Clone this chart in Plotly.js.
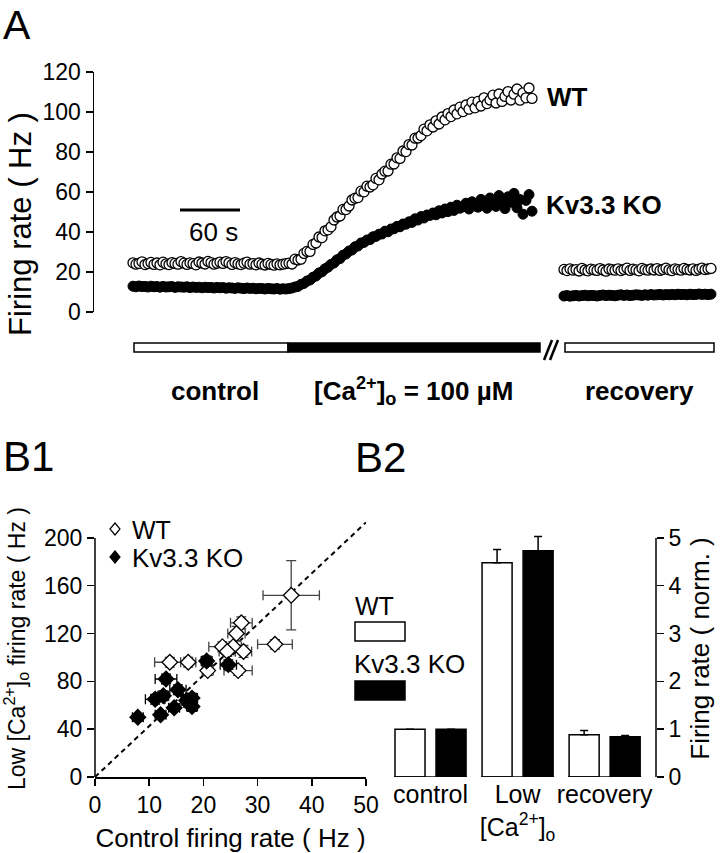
<!DOCTYPE html>
<html><head><meta charset="utf-8">
<script src="https://cdn.plot.ly/plotly-3.0.1.min.js"></script>
<style>html,body{margin:0;padding:0;background:#fff}#chart{width:720px;height:853px}</style>
</head><body><div id="chart"></div>
<script>
// ---------- Panel A: firing rate time course (samples every 3 s) ----------
const sampleStep = 3;          // s between samples
const mainStart = 0;           // s, control + low-Ca recording start
const recoveryStart = 431;     // s, recovery recording start (after break)

const wtMain = [
 24.6,23.9,24.3,25.1,23.7,24.2,24.8,23.8,24.5,23.6,
 24.9,24.1,23.7,24.7,24.3,23.9,25.2,24.4,23.8,24.6,
 24.2,23.6,25.0,24.5,24.0,25.3,24.7,23.9,24.4,24.9,
 24.3,25.2,24.6,23.8,24.7,24.1,23.7,24.4,24.9,23.9,
 24.2,23.6,24.5,23.9,23.5,24.3,23.8,23.4,24.1,23.6,
 23.9,24.2,
 24.4,24.0,26.4,26.0,26.4,29.3,30.3,30.3,33.8,34.5,
 37.5,37.2,40.6,41.1,42.6,46.0,47.5,48.0,51.3,51.2,
 53.0,56.0,56.9,57.2,60.4,60.1,62.9,62.5,63.6,66.8,
 66.1,69.0,70.4,70.5,73.9,74.0,77.1,76.8,80.5,80.2,
 83.7,83.5,86.9,87.0,88.2,91.4,90.6,93.6,92.5,95.6,
 94.0,97.5,96.1,99.2,97.7,101.0,99.1,102.4,100.2,103.5,
 101.4,104.9,102.1,105.3,103.0,107.1,104.2,106.0,108.4,104.5,
 109.0,105.3,107.8,110.2,106.0,108.9,111.5,105.9,109.6,107.1,
 112.0,106.8
];
const koMain = [
 12.9,12.6,13.0,12.7,12.8,12.5,12.9,12.6,12.7,12.4,
 12.8,12.5,12.6,12.7,12.3,12.6,12.5,12.4,12.6,12.2,
 12.5,12.3,12.4,12.1,12.4,12.2,12.3,12.0,12.3,12.1,
 12.2,11.9,12.1,12.0,11.8,12.1,11.9,11.7,12.0,11.8,
 11.9,11.6,11.8,11.7,11.5,11.8,11.6,11.5,11.7,11.4,
 11.6,11.5,
 11.7,12.0,12.5,12.8,13.8,14.3,15.5,16.0,17.4,18.0,
 19.5,20.1,21.6,22.4,23.8,24.5,26.1,26.7,28.4,29.0,
 30.5,31.0,32.6,33.0,34.5,34.8,36.0,36.2,37.6,37.8,
 38.9,39.0,40.4,40.1,41.5,41.6,42.8,42.6,44.0,43.9,
 45.1,44.8,46.6,46.0,47.7,47.0,48.5,48.3,49.5,48.6,
 50.6,49.5,51.5,50.2,52.4,50.8,53.4,51.9,52.6,54.4,
 51.5,55.1,53.0,52.4,56.3,53.8,51.9,57.0,54.6,52.8,
 58.2,55.0,51.7,57.6,54.9,59.3,52.1,56.2,48.9,55.8,
 58.7,50.4
];
const wtRecovery = [
 21.3,20.7,21.6,20.9,21.2,20.5,21.8,21.0,20.6,21.4,
 21.1,20.8,21.7,21.0,20.4,21.5,21.2,20.9,21.6,20.7,
 21.3,21.9,20.8,21.4,21.1,20.6,21.8,21.2,20.9,21.5,
 21.0,21.7,20.8,21.3,21.9,21.1,20.7,21.6,21.2,20.9,
 21.8,21.3,21.0,21.6,20.8,21.4,21.9,21.2,21.5,21.8
];
const koRecovery = [
 8.0,8.2,7.9,8.1,8.3,8.0,8.2,8.4,8.1,8.3,
 8.2,8.0,8.3,8.5,8.2,8.4,8.3,8.1,8.4,8.6,
 8.3,8.5,8.2,8.4,8.6,8.5,8.3,8.6,8.4,8.7,
 8.5,8.6,8.8,8.5,8.7,8.6,8.8,8.6,8.9,8.7,
 8.8,8.6,8.9,8.7,8.8,9.0,8.8,8.9,8.7,8.9
];
const yTicksA = [0,20,40,60,80,100,120];
// condition periods (s)
const controlPeriod = [1,155];
const lowCaPeriod = [155,407];
const recoveryPeriod = [432,581];
const scaleBarSeconds = [47,107];
const scaleBarLevel = 51;

// ---------- Panel B1: scatter ----------
const wtCtrl = [36.2,33.2,27.0,26.1,23.5,25.5,24.4,27.4,13.8,17.2,20.8,26.4];
const wtLow  = [152,111,129,120,109,109,105,105,96,96,89,89];
const wtCtrlErr = [5.2,3.2,2.0,1.6,2.5,1.5,1.5,1.5,2.8,1.4,1.0,2.6];
const wtLowErr  = [29,4,5,6,4,4,4,5,4,4,4,4];
const koCtrl = [7.9,12.1,11.1,12.6,13.1,15.3,14.6,17.4,17.9,16.9,17.9,20.6,24.6];
const koLow  = [50,52,65,68,82,73,58,62,66,64,59,97,94];
const koCtrlErr = [1.0,1.0,1.8,1.0,2.0,1.5,1.0,1.0,1.0,1.0,1.0,1.0,1.5];
const koLowErr  = [3,3,4,4,4,4,3,4,4,4,4,4,4];
const refLineX = [0,50];
const refLineY = [0,213];
const xTicksB1 = [0,10,20,30,40,50];
const yTicksB1 = [0,40,80,120,160,200];

// ---------- Panel B2: normalized bars ----------
const conditions = ['control','low','recovery'];
const conditionLabels = ['control','Low<br>[Ca<sup>2+</sup>]<sub>o</sub>','recovery'];
const wtNorm = [1.0,4.48,0.885];
const wtNormErr = [0,0.28,0.085];
const koNorm = [1.0,4.73,0.84];
const koNormErr = [0,0.30,0.03];
const yTicksB2 = [0,1,2,3,4,5];

// ---------- helpers ----------
const W = 720, H = 853;
const px = x => x / W;
const py = y => 1 - y / H;
const FONT = 'Liberation Sans, Arial, sans-serif';
const BLACK = '#000';

const traces = [
  {type:'scatter', mode:'markers', x0:mainStart, dx:sampleStep, y:koMain, xaxis:'x', yaxis:'y',
   marker:{symbol:'circle', size:10, color:BLACK, line:{color:BLACK,width:1}}, showlegend:false, hoverinfo:'skip'},
  {type:'scatter', mode:'markers', x0:recoveryStart, dx:sampleStep, y:koRecovery, xaxis:'x', yaxis:'y',
   marker:{symbol:'circle', size:10, color:BLACK, line:{color:BLACK,width:1}}, showlegend:false, hoverinfo:'skip'},
  {type:'scatter', mode:'markers', x0:mainStart, dx:sampleStep, y:wtMain, xaxis:'x', yaxis:'y',
   marker:{symbol:'circle', size:10, color:'#fff', line:{color:BLACK,width:1.3}}, showlegend:false, hoverinfo:'skip'},
  {type:'scatter', mode:'markers', x0:recoveryStart, dx:sampleStep, y:wtRecovery, xaxis:'x', yaxis:'y',
   marker:{symbol:'circle', size:10, color:'#fff', line:{color:BLACK,width:1.3}}, showlegend:false, hoverinfo:'skip'},

  {type:'scatter', mode:'lines', x:refLineX, y:refLineY, xaxis:'x2', yaxis:'y2',
   line:{color:BLACK, width:2, dash:'5px,4px'}, showlegend:false, hoverinfo:'skip'},
  {type:'scatter', mode:'markers', x:wtCtrl, y:wtLow, xaxis:'x2', yaxis:'y2', name:'WT',
   error_x:{type:'data', array:wtCtrlErr, color:'#444', thickness:1.3, width:5},
   error_y:{type:'data', array:wtLowErr, color:'#444', thickness:1.3, width:5},
   marker:{symbol:'diamond', size:12, color:'#fff', line:{color:BLACK,width:1.3}}, showlegend:false},
  {type:'scatter', mode:'markers', x:koCtrl, y:koLow, xaxis:'x2', yaxis:'y2', name:'Kv3.3 KO',
   error_x:{type:'data', array:koCtrlErr, color:BLACK, thickness:1.3, width:5},
   error_y:{type:'data', array:koLowErr, color:BLACK, thickness:1.3, width:5},
   marker:{symbol:'diamond', size:12, color:BLACK, line:{color:BLACK,width:1.3}}, showlegend:false},

  {type:'bar', x:conditions, y:wtNorm, xaxis:'x3', yaxis:'y3', name:'WT',
   marker:{color:'#fff', line:{color:BLACK, width:1.5}},
   error_y:{type:'data', symmetric:false, array:wtNormErr, arrayminus:wtNormErr.map(()=>0), color:BLACK, thickness:1.5, width:4},
   showlegend:false},
  {type:'bar', x:conditions, y:koNorm, xaxis:'x3', yaxis:'y3', name:'Kv3.3 KO',
   marker:{color:BLACK, line:{color:BLACK, width:1.5}},
   error_y:{type:'data', symmetric:false, array:koNormErr, arrayminus:koNormErr.map(()=>0), color:BLACK, thickness:1.5, width:4},
   showlegend:false}
];

const axisCommon = {showgrid:false, zeroline:false, ticks:'outside', ticklen:7, tickwidth:1.5,
  tickcolor:BLACK, linecolor:BLACK, linewidth:1.5, tickfont:{family:FONT, size:23, color:BLACK}, fixedrange:true};

function diamondPath(cx, cy, hw, hh) {
  return 'M' + px(cx-hw) + ',' + py(cy) + ' L' + px(cx) + ',' + py(cy-hh) + ' L' + px(cx+hw) + ',' + py(cy) +
         ' L' + px(cx) + ',' + py(cy+hh) + ' Z';
}

const shapes = [
  // condition bars under panel A
  {type:'rect', xref:'x', yref:'paper', x0:controlPeriod[0], x1:controlPeriod[1], y0:py(352), y1:py(343), fillcolor:'#fff', line:{color:BLACK,width:1.5}},
  {type:'rect', xref:'x', yref:'paper', x0:lowCaPeriod[0], x1:lowCaPeriod[1], y0:py(352), y1:py(343), fillcolor:BLACK, line:{color:BLACK,width:1.5}},
  {type:'rect', xref:'x', yref:'paper', x0:recoveryPeriod[0], x1:recoveryPeriod[1], y0:py(352), y1:py(343), fillcolor:'#fff', line:{color:BLACK,width:1.5}},
  {type:'line', xref:'paper', yref:'paper', x0:px(544), x1:px(552), y0:py(360), y1:py(340), line:{color:BLACK,width:2.5}},
  {type:'line', xref:'paper', yref:'paper', x0:px(550), x1:px(558), y0:py(360), y1:py(340), line:{color:BLACK,width:2.5}},
  // 60 s scale bar
  {type:'line', xref:'x', yref:'y', x0:scaleBarSeconds[0], x1:scaleBarSeconds[1], y0:scaleBarLevel, y1:scaleBarLevel, line:{color:BLACK,width:3}},
  // B1 y axis line (0-200)
  {type:'line', xref:'paper', yref:'y2', x0:px(95), x1:px(95), y0:0, y1:200, line:{color:BLACK,width:1.5}},
  // B2 y axis line (0-5)
  {type:'line', xref:'paper', yref:'y3', x0:px(656), x1:px(656), y0:0, y1:5, line:{color:BLACK,width:1.5}},
  // B2 baselines per group
  ...conditions.map((c,i)=>({type:'line', xref:'x3', yref:'y3', x0:i-0.42, x1:i+0.42, y0:0, y1:0, line:{color:BLACK,width:1.5}})),
  // B1 legend symbols
  {type:'path', xref:'paper', yref:'paper', path:diamondPath(115,529,5,6), fillcolor:'#fff', line:{color:BLACK,width:1.2}},
  {type:'path', xref:'paper', yref:'paper', path:diamondPath(115,557,5,6), fillcolor:BLACK, line:{color:BLACK,width:1.2}},
  // B2 legend swatches
  {type:'rect', xref:'paper', yref:'paper', x0:px(355), x1:px(405), y0:py(641), y1:py(622), fillcolor:'#fff', line:{color:BLACK,width:1.5}},
  {type:'rect', xref:'paper', yref:'paper', x0:px(355), x1:px(405), y0:py(700), y1:py(681), fillcolor:BLACK, line:{color:BLACK,width:1.5}}
];

function ann(text, x, y, size, opts) {
  return Object.assign({text, xref:'paper', yref:'paper', x:px(x), y:py(y), showarrow:false,
    xanchor:'left', yanchor:'middle', font:{family:FONT, size, color:BLACK}}, opts||{});
}
const annotations = [
  ann('A', 1, 0, 41, {yanchor:'top'}),
  ann('B1', 1, 456, 42),
  ann('B2', 353, 458, 42),
  ann('Firing rate ( Hz )', 20, 224, 31, {xanchor:'center', textangle:-90}),
  ann('60 s', 213, 232, 26, {xanchor:'center'}),
  ann('<b>WT</b>', 545, 97, 26),
  ann('<b>Kv3.3 KO</b>', 544, 205, 26),
  ann('<b>control</b>', 215, 391, 26, {xanchor:'center'}),
  ann('<b>[Ca<sup>2+</sup>]<sub>o</sub> = 100 µM</b>', 413, 391, 26, {xanchor:'center'}),
  ann('<b>recovery</b>', 639, 391, 26, {xanchor:'center'}),
  ann('WT', 130, 530, 25),
  ann('Kv3.3 KO', 130, 558, 26),
  ann('WT', 353, 606, 25),
  ann('Kv3.3 KO', 352, 664, 26)
];

const layout = {
  width:W, height:H, margin:{l:0,r:0,t:0,b:0}, paper_bgcolor:'#fff', plot_bgcolor:'rgba(0,0,0,0)',
  font:{family:FONT, color:BLACK}, showlegend:false,
  barmode:'group', bargap:0.0575, bargroupgap:0.268,
  xaxis:{domain:[px(94),1], range:[-39,587], visible:false, fixedrange:true},
  yaxis:Object.assign({}, axisCommon, {domain:[py(312),py(72)], range:[0,120], tickvals:yTicksA, showline:true, anchor:'x'}),
  xaxis2:Object.assign({}, axisCommon, {domain:[px(95),px(366)], range:[0,50], tickvals:xTicksB1, showline:true, anchor:'y2',
    title:{text:'Control firing rate ( Hz )', font:{family:FONT,size:26,color:BLACK}, standoff:12}}),
  yaxis2:Object.assign({}, axisCommon, {domain:[py(777),py(520)], range:[0,215], tickvals:yTicksB1, showline:false, anchor:'x2',
    title:{text:'Low [Ca<sup>2+</sup>]<sub>o</sub> firing rate ( Hz )', font:{family:FONT,size:23,color:BLACK}, standoff:15}}),
  xaxis3:Object.assign({}, axisCommon, {domain:[px(387),px(656)], range:[-0.5,2.59], type:'category',
    tickmode:'array', tickvals:conditions, ticktext:conditionLabels, ticks:'', showline:false, anchor:'y3', tickangle:0,
    tickfont:{family:FONT,size:25,color:BLACK}}),
  yaxis3:Object.assign({}, axisCommon, {domain:[py(777),py(520)], range:[0,5*215/200], tickvals:yTicksB2, side:'right', showline:false, anchor:'x3',
    title:{text:'Firing rate ( norm. )', font:{family:FONT,size:26,color:BLACK}, standoff:10}}),
  shapes, annotations
};

Plotly.newPlot('chart', traces, layout, {displayModeBar:false, staticPlot:true});
</script>
</body></html>
